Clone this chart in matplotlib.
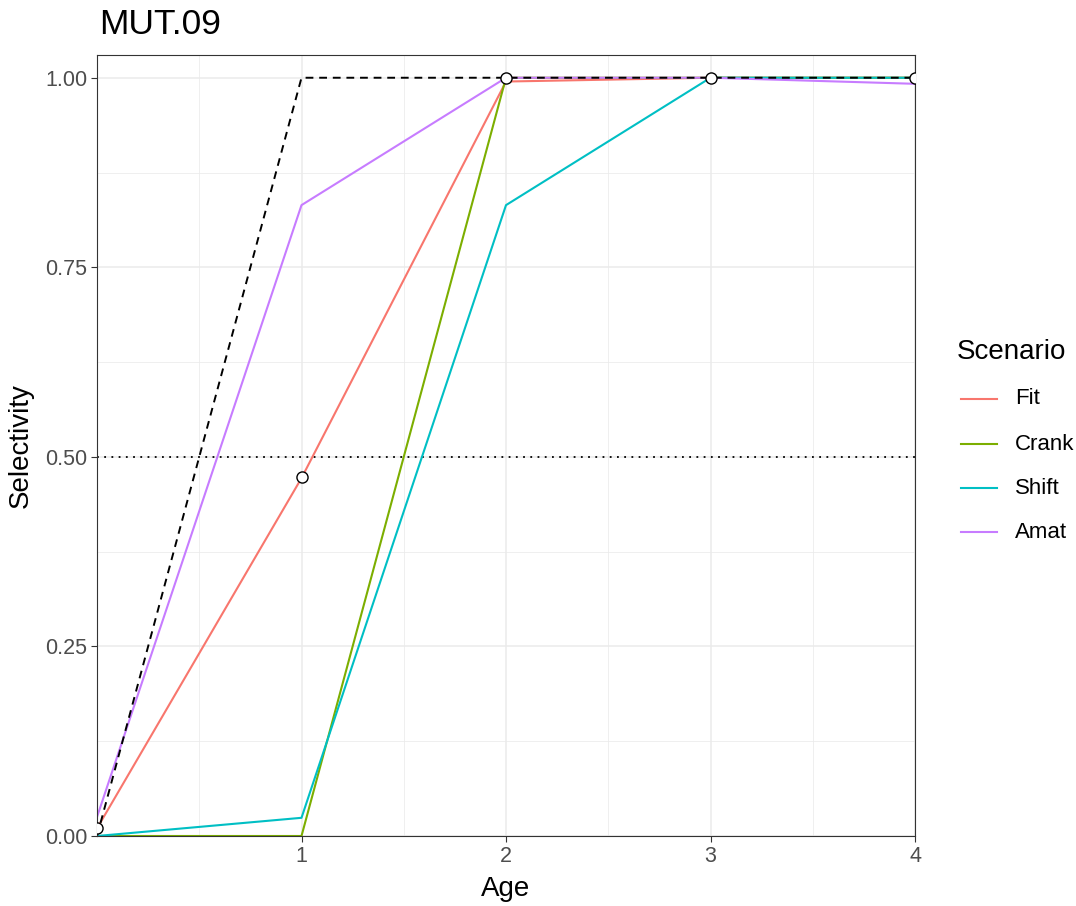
import matplotlib
matplotlib.use("Agg")
import matplotlib.pyplot as plt
from matplotlib.lines import Line2D

plt.rcParams['font.family'] = ['Liberation Sans', 'DejaVu Sans']

ages = [0, 1, 2, 3, 4]
fit = [0.01, 0.472, 0.995, 1.0, 1.0]
crank = [0.0, 0.0, 1.0, 1.0, 1.0]
shift = [0.0, 0.024, 0.832, 1.0, 1.0]
amat = [0.025, 0.832, 1.0, 1.0, 0.992]
ref_line = [0.0, 1.0, 1.0, 1.0, 1.0]
obs = [0.01, 0.473, 1.0, 1.0, 1.0]
scenarios = ["Fit", "Crank", "Shift", "Amat"]
colors = ["#F8766D", "#7CAE00", "#00BFC4", "#C77CFF"]
series = [fit, crank, shift, amat]

W, H = 1076, 906
fig = plt.figure(figsize=(W/100, H/100), dpi=100)
ax = fig.add_axes([97/W, 1-836/H, (915-97)/W, (836-55)/H])

ax.set_xlim(0, 4)
ax.set_ylim(0, 1.03)

ax.set_xticks([1, 2, 3, 4])
ax.set_xticks([0.5, 1.5, 2.5, 3.5], minor=True)
ax.set_yticks([0, 0.25, 0.5, 0.75, 1.0])
ax.set_yticklabels(["0.00", "0.25", "0.50", "0.75", "1.00"])
ax.set_yticks([0.125, 0.375, 0.625, 0.875], minor=True)
ax.grid(True, which='major', color='#EBEBEB', lw=1.1)
ax.grid(True, which='minor', color='#EBEBEB', lw=0.55)
ax.set_axisbelow(True)
ax.tick_params(which='major', length=4, width=0.8, color='#333333', labelsize=15.5,
               labelcolor='#4D4D4D', pad=3)
ax.tick_params(which='minor', length=0)
for s in ax.spines.values():
    s.set_color('#333333')
    s.set_linewidth(0.8)

ax.axhline(0.5, color='black', ls=(0, (1, 3)), lw=1.3)
for ys, c in zip(series, colors):
    ax.plot(ages, ys, color=c, lw=1.5)
ax.plot(ages, ref_line, color='black', ls=(0, (4, 3)), lw=1.4)
ax.plot(ages, obs, ls='none', marker='o', ms=8, mfc='white', mec='black', mew=1.0, clip_on=True, zorder=5)

fig.text(506/W, 1-889/H, "Age", fontsize=20, va='center', ha='center')
fig.text(21/W, 1-446/H, "Selectivity", fontsize=20, va='center', ha='center', rotation=90)
fig.text(99/W, 1-25/H, "MUT.09", fontsize=25.5, va='center', ha='left')

# legend
fig.text(957/W, 1-352/H, "Scenario", fontsize=20, va='center', ha='left')
ys_leg = [399, 444, 488, 532]
for name, c, yy in zip(scenarios, colors, ys_leg):
    fig.add_artist(Line2D([961/W, 997/W], [1-yy/H, 1-yy/H], color=c, lw=1.5))
    fig.text(1015/W, 1-yy/H, name, fontsize=16, va='center', ha='left')

fig.savefig("out.png", dpi=100)
